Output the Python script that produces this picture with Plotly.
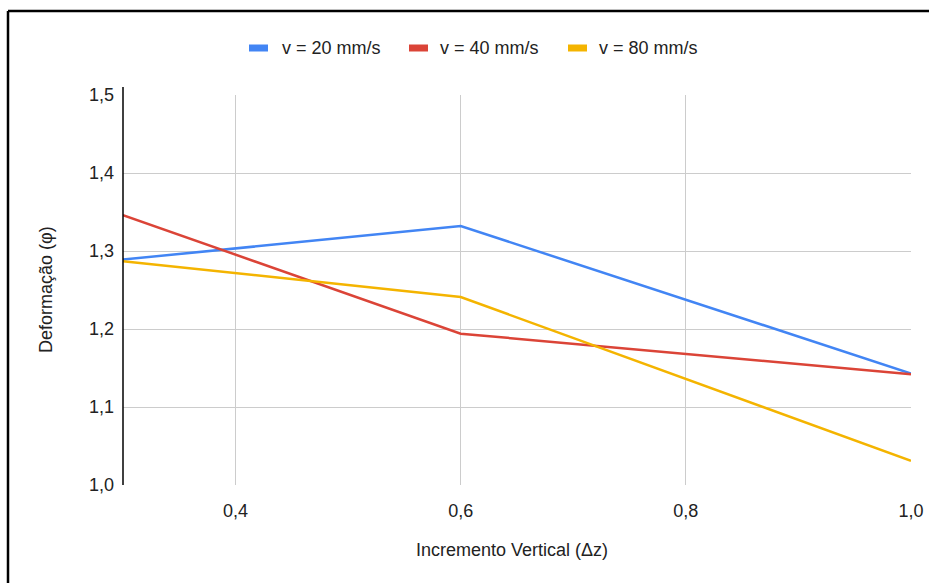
import plotly.graph_objects as go

x_vals = [0.3, 0.6, 1.0]
v20 = [1.289, 1.332, 1.143]
v40 = [1.346, 1.194, 1.142]
v80 = [1.287, 1.241, 1.031]
series_names = ["v = 20 mm/s", "v = 40 mm/s", "v = 80 mm/s"]
colors = ["#4285F4", "#DB4437", "#F4B400"]
x_ticks = [0.4, 0.6, 0.8, 1.0]
x_tick_labels = ["0,4", "0,6", "0,8", "1,0"]
y_ticks = [1.0, 1.1, 1.2, 1.3, 1.4, 1.5]
y_tick_labels = ["1,0", "1,1", "1,2", "1,3", "1,4", "1,5"]

W, H = 929, 583
L, R, T, B = 123, 911, 95, 485
pw, ph = R - L, B - T

def px(x):
    return (x - L) / pw

def py(y):
    return (B - y) / ph

FONT = "Liberation Sans, Arial, sans-serif"
FS = 18
TXT = "#222222"

fig = go.Figure()
for name, ys, c in zip(series_names, [v20, v40, v80], colors):
    fig.add_trace(go.Scatter(x=x_vals, y=ys, mode="lines", name=name,
                             line=dict(color=c, width=2.5), showlegend=False))

shapes = []
annotations = []
# custom legend
leg_marker_x = [249, 409, 568]
leg_text_x = [280, 438, 597]
for name, c, mx, tx in zip(series_names, colors, leg_marker_x, leg_text_x):
    shapes.append(dict(type="rect", xref="paper", yref="paper",
                       x0=px(mx), x1=px(mx + 19), y0=py(51.5), y1=py(44.5),
                       fillcolor=c, line=dict(width=0)))
    annotations.append(dict(text=name, xref="paper", yref="paper",
                            x=px(tx), y=py(48), xanchor="left", yanchor="middle",
                            showarrow=False, font=dict(family=FONT, size=FS, color=TXT)))

# y axis line (extends slightly above plot)
shapes.append(dict(type="line", xref="paper", yref="paper", x0=0, x1=0,
                   y0=0, y1=py(87), line=dict(color="#000000", width=1.5)))
# image border (top and left)
shapes.append(dict(type="line", xref="paper", yref="paper", x0=px(8), x1=px(935),
                   y0=py(11), y1=py(11), line=dict(color="#000000", width=2.5)))
shapes.append(dict(type="line", xref="paper", yref="paper", x0=px(8), x1=px(8),
                   y0=py(11), y1=py(590), line=dict(color="#000000", width=2.5)))

# axis titles
annotations.append(dict(text="Incremento Vertical (Δz)", xref="paper", yref="paper",
                        x=px(512), y=py(550), xanchor="center", yanchor="middle",
                        showarrow=False, font=dict(family=FONT, size=FS, color=TXT)))
annotations.append(dict(text="Deformação (φ)", xref="paper", yref="paper",
                        x=px(46), y=py(290), xanchor="center", yanchor="middle",
                        textangle=-90, showarrow=False,
                        font=dict(family=FONT, size=FS, color=TXT)))

fig.update_layout(
    width=W, height=H,
    margin=dict(l=L, r=W - R, t=T, b=H - B, autoexpand=False),
    paper_bgcolor="white", plot_bgcolor="white",
    font=dict(family=FONT, size=FS, color=TXT),
    shapes=shapes, annotations=annotations,
    xaxis=dict(range=[0.3, 1.0], tickvals=x_ticks, ticktext=x_tick_labels,
               showgrid=True, gridcolor="#cccccc", gridwidth=1,
               zeroline=False, showline=False, ticks="", ticklabelstandoff=13,
               tickfont=dict(family=FONT, size=FS, color=TXT)),
    yaxis=dict(range=[1.0, 1.5], tickvals=y_ticks, ticktext=y_tick_labels,
               showgrid=True, gridcolor="#cccccc", gridwidth=1,
               zeroline=False, showline=False, ticks="", ticklabelstandoff=8,
               tickfont=dict(family=FONT, size=FS, color=TXT)),
)

fig.write_html("out.html")
